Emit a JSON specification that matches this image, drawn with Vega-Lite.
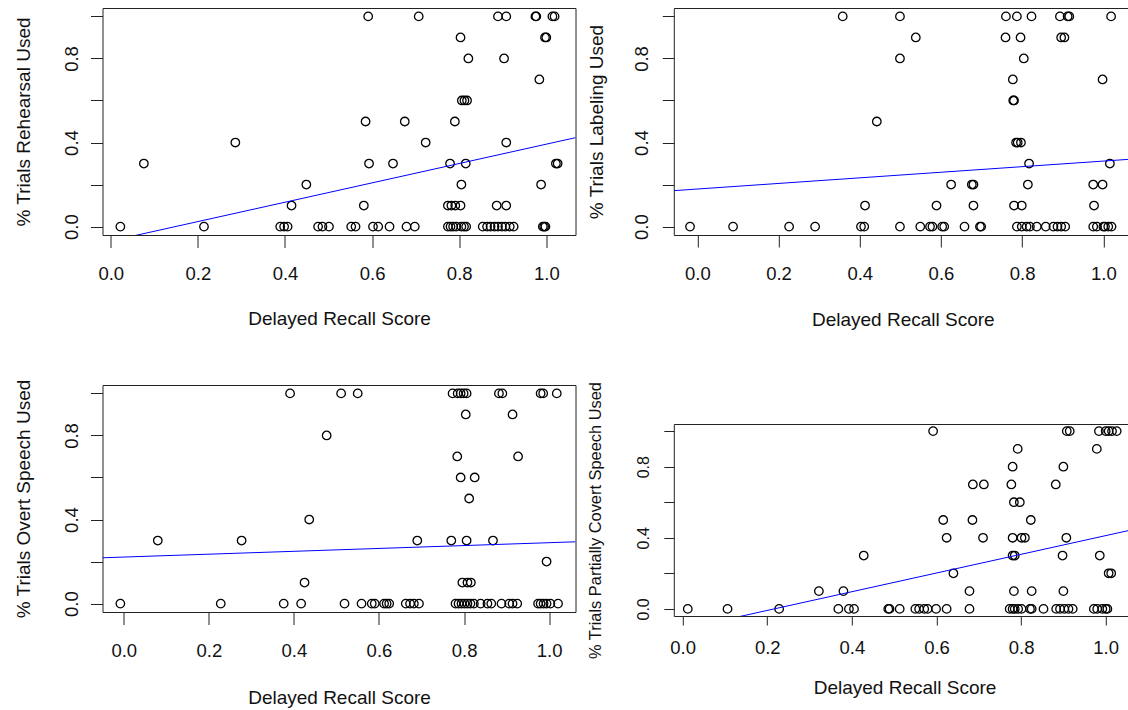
{
  "$schema": "https://vega.github.io/schema/vega-lite/v6.json",
  "background": "white",
  "padding": {"left": 12.5, "top": 7, "right": 0, "bottom": 0},
  "datasets": {
    "rehearsal": [
      {"x":0.591,"y":1},{"x":0.707,"y":1},{"x":0.889,"y":1},{"x":0.908,"y":1},{"x":0.975,"y":1},{"x":0.977,"y":1},{"x":1.014,"y":1},{"x":1.019,"y":1},
      {"x":0.803,"y":0.9},{"x":0.997,"y":0.9},{"x":1.0,"y":0.9},
      {"x":0.821,"y":0.8},{"x":0.903,"y":0.8},
      {"x":0.984,"y":0.7},
      {"x":0.806,"y":0.6},{"x":0.812,"y":0.6},{"x":0.818,"y":0.6},
      {"x":0.585,"y":0.5},{"x":0.675,"y":0.5},{"x":0.79,"y":0.5},
      {"x":0.286,"y":0.4},{"x":0.723,"y":0.4},{"x":0.908,"y":0.4},
      {"x":0.076,"y":0.3},{"x":0.593,"y":0.3},{"x":0.648,"y":0.3},{"x":0.779,"y":0.3},{"x":0.815,"y":0.3},{"x":1.022,"y":0.3},{"x":1.026,"y":0.3},
      {"x":0.449,"y":0.2},{"x":0.805,"y":0.2},{"x":0.988,"y":0.2},
      {"x":0.415,"y":0.1},{"x":0.581,"y":0.1},{"x":0.774,"y":0.1},{"x":0.782,"y":0.1},{"x":0.791,"y":0.1},{"x":0.803,"y":0.1},{"x":0.886,"y":0.1},{"x":0.908,"y":0.1},
      {"x":0.022,"y":0},{"x":0.214,"y":0},{"x":0.389,"y":0},{"x":0.398,"y":0},{"x":0.406,"y":0},{"x":0.476,"y":0},{"x":0.486,"y":0},{"x":0.501,"y":0},{"x":0.552,"y":0},{"x":0.562,"y":0},{"x":0.602,"y":0},{"x":0.614,"y":0},{"x":0.64,"y":0},{"x":0.679,"y":0},{"x":0.698,"y":0},{"x":0.774,"y":0},{"x":0.78,"y":0},{"x":0.786,"y":0},{"x":0.793,"y":0},{"x":0.805,"y":0},{"x":0.811,"y":0},{"x":0.816,"y":0},{"x":0.854,"y":0},{"x":0.864,"y":0},{"x":0.872,"y":0},{"x":0.881,"y":0},{"x":0.889,"y":0},{"x":0.898,"y":0},{"x":0.906,"y":0},{"x":0.916,"y":0},{"x":0.925,"y":0},{"x":0.992,"y":0},{"x":0.995,"y":0},{"x":0.998,"y":0}
    ],
    "labeling": [
      {"x":0.358,"y":1},{"x":0.499,"y":1},{"x":0.76,"y":1},{"x":0.787,"y":1},{"x":0.823,"y":1},{"x":0.893,"y":1},{"x":0.912,"y":1},{"x":0.916,"y":1},{"x":1.019,"y":1},
      {"x":0.538,"y":0.9},{"x":0.759,"y":0.9},{"x":0.796,"y":0.9},{"x":0.896,"y":0.9},{"x":0.904,"y":0.9},
      {"x":0.499,"y":0.8},{"x":0.804,"y":0.8},
      {"x":0.777,"y":0.7},{"x":0.998,"y":0.7},
      {"x":0.778,"y":0.6},{"x":0.78,"y":0.6},
      {"x":0.442,"y":0.5},
      {"x":0.785,"y":0.4},{"x":0.789,"y":0.4},{"x":0.797,"y":0.4},
      {"x":0.817,"y":0.3},{"x":1.016,"y":0.3},
      {"x":0.625,"y":0.2},{"x":0.676,"y":0.2},{"x":0.68,"y":0.2},{"x":0.814,"y":0.2},{"x":0.975,"y":0.2},{"x":0.998,"y":0.2},
      {"x":0.413,"y":0.1},{"x":0.589,"y":0.1},{"x":0.68,"y":0.1},{"x":0.78,"y":0.1},{"x":0.799,"y":0.1},{"x":0.977,"y":0.1},
      {"x":-0.018,"y":0},{"x":0.088,"y":0},{"x":0.226,"y":0},{"x":0.29,"y":0},{"x":0.403,"y":0},{"x":0.411,"y":0},{"x":0.499,"y":0},{"x":0.549,"y":0},{"x":0.573,"y":0},{"x":0.579,"y":0},{"x":0.603,"y":0},{"x":0.608,"y":0},{"x":0.658,"y":0},{"x":0.696,"y":0},{"x":0.699,"y":0},{"x":0.787,"y":0},{"x":0.799,"y":0},{"x":0.811,"y":0},{"x":0.819,"y":0},{"x":0.836,"y":0},{"x":0.858,"y":0},{"x":0.877,"y":0},{"x":0.887,"y":0},{"x":0.896,"y":0},{"x":0.906,"y":0},{"x":0.975,"y":0},{"x":0.984,"y":0},{"x":1.0,"y":0},{"x":1.004,"y":0},{"x":1.012,"y":0},{"x":1.02,"y":0}
    ],
    "overt": [
      {"x":0.391,"y":1},{"x":0.511,"y":1},{"x":0.55,"y":1},{"x":0.773,"y":1},{"x":0.785,"y":1},{"x":0.792,"y":1},{"x":0.799,"y":1},{"x":0.806,"y":1},{"x":0.882,"y":1},{"x":0.89,"y":1},{"x":0.98,"y":1},{"x":0.986,"y":1},{"x":1.018,"y":1},
      {"x":0.804,"y":0.9},{"x":0.914,"y":0.9},
      {"x":0.477,"y":0.8},
      {"x":0.784,"y":0.7},{"x":0.927,"y":0.7},
      {"x":0.792,"y":0.6},{"x":0.825,"y":0.6},
      {"x":0.812,"y":0.5},
      {"x":0.436,"y":0.4},
      {"x":0.08,"y":0.3},{"x":0.277,"y":0.3},{"x":0.69,"y":0.3},{"x":0.77,"y":0.3},{"x":0.806,"y":0.3},{"x":0.868,"y":0.3},
      {"x":0.994,"y":0.2},
      {"x":0.425,"y":0.1},{"x":0.796,"y":0.1},{"x":0.808,"y":0.1},{"x":0.816,"y":0.1},
      {"x":-0.008,"y":0},{"x":0.228,"y":0},{"x":0.376,"y":0},{"x":0.417,"y":0},{"x":0.519,"y":0},{"x":0.559,"y":0},{"x":0.583,"y":0},{"x":0.59,"y":0},{"x":0.612,"y":0},{"x":0.618,"y":0},{"x":0.624,"y":0},{"x":0.663,"y":0},{"x":0.673,"y":0},{"x":0.682,"y":0},{"x":0.694,"y":0},{"x":0.78,"y":0},{"x":0.787,"y":0},{"x":0.794,"y":0},{"x":0.801,"y":0},{"x":0.808,"y":0},{"x":0.815,"y":0},{"x":0.823,"y":0},{"x":0.839,"y":0},{"x":0.855,"y":0},{"x":0.864,"y":0},{"x":0.888,"y":0},{"x":0.906,"y":0},{"x":0.914,"y":0},{"x":0.925,"y":0},{"x":0.974,"y":0},{"x":0.98,"y":0},{"x":0.987,"y":0},{"x":0.994,"y":0},{"x":1.003,"y":0},{"x":1.021,"y":0}
    ],
    "covert": [
      {"x":0.592,"y":1},{"x":0.908,"y":1},{"x":0.915,"y":1},{"x":0.984,"y":1},{"x":1.0,"y":1},{"x":1.007,"y":1},{"x":1.015,"y":1},{"x":1.026,"y":1},
      {"x":0.792,"y":0.9},{"x":0.979,"y":0.9},
      {"x":0.78,"y":0.8},{"x":0.9,"y":0.8},
      {"x":0.686,"y":0.7},{"x":0.712,"y":0.7},{"x":0.777,"y":0.7},{"x":0.882,"y":0.7},
      {"x":0.783,"y":0.6},{"x":0.797,"y":0.6},
      {"x":0.616,"y":0.5},{"x":0.685,"y":0.5},{"x":0.823,"y":0.5},
      {"x":0.624,"y":0.4},{"x":0.71,"y":0.4},{"x":0.78,"y":0.4},{"x":0.801,"y":0.4},{"x":0.809,"y":0.4},{"x":0.907,"y":0.4},
      {"x":0.428,"y":0.3},{"x":0.78,"y":0.3},{"x":0.785,"y":0.3},{"x":0.898,"y":0.3},{"x":0.986,"y":0.3},
      {"x":0.64,"y":0.2},{"x":1.007,"y":0.2},{"x":1.013,"y":0.2},
      {"x":0.322,"y":0.1},{"x":0.38,"y":0.1},{"x":0.678,"y":0.1},{"x":0.783,"y":0.1},{"x":0.825,"y":0.1},{"x":0.9,"y":0.1},
      {"x":0.012,"y":0},{"x":0.106,"y":0},{"x":0.228,"y":0},{"x":0.368,"y":0},{"x":0.393,"y":0},{"x":0.405,"y":0},{"x":0.486,"y":0},{"x":0.489,"y":0},{"x":0.513,"y":0},{"x":0.55,"y":0},{"x":0.559,"y":0},{"x":0.571,"y":0},{"x":0.579,"y":0},{"x":0.599,"y":0},{"x":0.624,"y":0},{"x":0.678,"y":0},{"x":0.773,"y":0},{"x":0.78,"y":0},{"x":0.785,"y":0},{"x":0.793,"y":0},{"x":0.801,"y":0},{"x":0.821,"y":0},{"x":0.825,"y":0},{"x":0.853,"y":0},{"x":0.883,"y":0},{"x":0.892,"y":0},{"x":0.902,"y":0},{"x":0.912,"y":0},{"x":0.922,"y":0},{"x":0.972,"y":0},{"x":0.98,"y":0},{"x":0.992,"y":0},{"x":1.0,"y":0},{"x":1.004,"y":0}
    ],
    "rehearsal_fit": [{"x":-0.019,"y":-0.077},{"x":1.067,"y":0.423}],
    "labeling_fit": [{"x":-0.058,"y":0.171},{"x":1.07,"y":0.321}],
    "overt_fit": [{"x":-0.05,"y":0.218},{"x":1.062,"y":0.294}],
    "covert_fit": [{"x":-0.027,"y":-0.128},{"x":1.07,"y":0.449}]
  },
  "hconcat": [
    {
      "spacing": 49,
      "vconcat": [
        {
          "width": 473, "height": 227,
          "encoding": {
            "x": {"field": "x", "type": "quantitative", "scale": {"domain": [-0.019, 1.067], "nice": false, "zero": false},
              "axis": {"title": "Delayed Recall Score", "values": [0,0.2,0.4,0.6,0.8,1], "format": ".1f", "labelFlush": false, "labelOverlap": false, "labelBaseline": "middle", "labelPadding": 26, "tickSize": 12.5, "titleX": 236.5, "titleY": 83.5, "titleBaseline": "middle", "titleAlign": "center"}},
            "y": {"field": "y", "type": "quantitative", "scale": {"domain": [-0.04, 1.04], "nice": false, "zero": false},
              "axis": {"title": "% Trials Rehearsal Used", "values": [0,0.2,0.4,0.6,0.8,1], "labelExpr": "(datum.value < 0.01 || abs(datum.value - 0.4) < 0.01 || abs(datum.value - 0.8) < 0.01) ? format(datum.value, '.1f') : ''", "labelFlush": false, "labelOverlap": false, "labelAngle": 270, "labelAlign": "center", "labelBaseline": "middle", "labelPadding": 19.5, "tickSize": 12, "titleX": -79.5, "titleY": 113.5, "titleAngle": 270, "titleBaseline": "middle", "titleAlign": "center"}}
          },
          "layer": [
            {"data": {"name": "rehearsal"}, "mark": {"type": "point", "shape": "circle", "filled": false, "color": "#000", "size": 72, "strokeWidth": 1.3, "opacity": 1}},
            {"data": {"name": "rehearsal_fit"}, "mark": {"type": "line", "color": "#0000ff", "strokeWidth": 1, "clip": true}}
          ]
        },
        {
          "width": 473, "height": 227,
          "encoding": {
            "x": {"field": "x", "type": "quantitative", "scale": {"domain": [-0.05, 1.062], "nice": false, "zero": false},
              "axis": {"title": "Delayed Recall Score", "values": [0,0.2,0.4,0.6,0.8,1], "format": ".1f", "labelFlush": false, "labelOverlap": false, "labelBaseline": "middle", "labelPadding": 26, "tickSize": 12.5, "titleX": 236.5, "titleY": 85.5, "titleBaseline": "middle", "titleAlign": "center"}},
            "y": {"field": "y", "type": "quantitative", "scale": {"domain": [-0.04, 1.04], "nice": false, "zero": false},
              "axis": {"title": "% Trials Overt Speech Used", "values": [0,0.2,0.4,0.6,0.8,1], "labelExpr": "(datum.value < 0.01 || abs(datum.value - 0.4) < 0.01 || abs(datum.value - 0.8) < 0.01) ? format(datum.value, '.1f') : ''", "labelFlush": false, "labelOverlap": false, "labelAngle": 270, "labelAlign": "center", "labelBaseline": "middle", "labelPadding": 19.5, "tickSize": 12, "titleX": -79.5, "titleY": 113.5, "titleAngle": 270, "titleBaseline": "middle", "titleAlign": "center"}}
          },
          "layer": [
            {"data": {"name": "overt"}, "mark": {"type": "point", "shape": "circle", "filled": false, "color": "#000", "size": 72, "strokeWidth": 1.3, "opacity": 1}},
            {"data": {"name": "overt_fit"}, "mark": {"type": "line", "color": "#0000ff", "strokeWidth": 1, "clip": true}}
          ]
        }
      ]
    },
    {
      "spacing": 50,
      "vconcat": [
        {
          "width": 458, "height": 227,
          "encoding": {
            "x": {"field": "x", "type": "quantitative", "scale": {"domain": [-0.058, 1.07], "nice": false, "zero": false},
              "axis": {"title": "Delayed Recall Score", "values": [0,0.2,0.4,0.6,0.8,1], "format": ".1f", "labelFlush": false, "labelOverlap": false, "labelBaseline": "middle", "labelPadding": 26, "tickSize": 12, "titleX": 229, "titleY": 84, "titleBaseline": "middle", "titleAlign": "center"}},
            "y": {"field": "y", "type": "quantitative", "scale": {"domain": [-0.04, 1.04], "nice": false, "zero": false},
              "axis": {"title": "% Trials Labeling Used", "values": [0,0.2,0.4,0.6,0.8,1], "labelExpr": "(datum.value < 0.01 || abs(datum.value - 0.4) < 0.01 || abs(datum.value - 0.8) < 0.01) ? format(datum.value, '.1f') : ''", "labelFlush": false, "labelOverlap": false, "labelAngle": 270, "labelAlign": "center", "labelBaseline": "middle", "labelPadding": 21, "tickSize": 11.5, "titleX": -77.5, "titleY": 113.5, "titleAngle": 270, "titleBaseline": "middle", "titleAlign": "center"}}
          },
          "layer": [
            {"data": {"name": "labeling"}, "mark": {"type": "point", "shape": "circle", "filled": false, "color": "#000", "size": 72, "strokeWidth": 1.3, "opacity": 1}},
            {"data": {"name": "labeling_fit"}, "mark": {"type": "line", "color": "#0000ff", "strokeWidth": 1, "clip": true}}
          ]
        },
        {
          "width": 461.5, "height": 192,
          "encoding": {
            "x": {"field": "x", "type": "quantitative", "scale": {"domain": [-0.021, 1.07], "nice": false, "zero": false},
              "axis": {"title": "Delayed Recall Score", "values": [0,0.2,0.4,0.6,0.8,1], "format": ".1f", "labelFlush": false, "labelOverlap": false, "labelBaseline": "middle", "labelPadding": 22.4, "tickSize": 9, "titleX": 230.75, "titleY": 71.6, "titleBaseline": "middle", "titleAlign": "center"}},
            "y": {"field": "y", "type": "quantitative", "scale": {"domain": [-0.04, 1.04], "nice": false, "zero": false},
              "axis": {"title": "% Trials Partially Covert Speech Used", "titleFontSize": 16.4, "labelFontSize": 16, "values": [0,0.2,0.4,0.6,0.8,1], "labelExpr": "(datum.value < 0.01 || abs(datum.value - 0.4) < 0.01 || abs(datum.value - 0.8) < 0.01) ? format(datum.value, '.1f') : ''", "labelFlush": false, "labelOverlap": false, "labelAngle": 270, "labelAlign": "center", "labelBaseline": "middle", "labelPadding": 20, "tickSize": 10, "titleX": -78, "titleY": 96, "titleAngle": 270, "titleBaseline": "middle", "titleAlign": "center"}}
          },
          "layer": [
            {"data": {"name": "covert"}, "mark": {"type": "point", "shape": "circle", "filled": false, "color": "#000", "size": 72, "strokeWidth": 1.3, "opacity": 1}},
            {"data": {"name": "covert_fit"}, "mark": {"type": "line", "color": "#0000ff", "strokeWidth": 1, "clip": true}}
          ]
        }
      ]
    }
  ],
  "spacing": 10.3,
  "config": {
    "font": "Liberation Sans",
    "view": {"stroke": "#222", "strokeWidth": 1},
    "axis": {"labelFont": "Liberation Sans", "titleFont": "Liberation Sans", "labelFontSize": 18.5, "titleFontSize": 19, "titleFontWeight": "normal", "labelColor": "#111", "titleColor": "#111", "tickColor": "#222", "tickWidth": 1, "domain": false, "grid": false}
  }
}
